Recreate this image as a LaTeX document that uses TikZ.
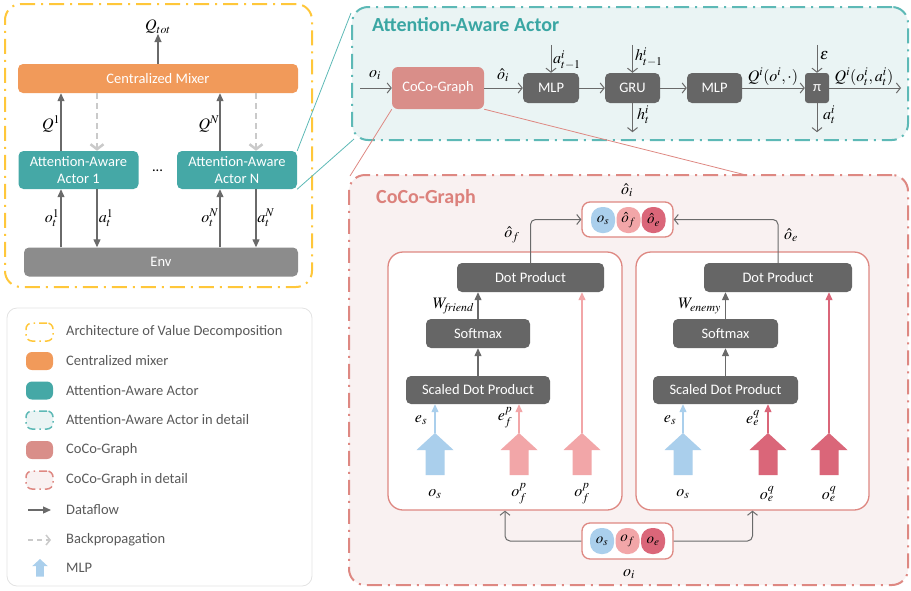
\documentclass[tikz,border=0pt]{standalone}
\usepackage{mathptmx}
\usepackage[no-math]{fontspec}
\setmainfont{Carlito}
\usetikzlibrary{arrows.meta}
\definecolor{cYel}{HTML}{FFC73A}
\definecolor{cOrg}{HTML}{F19A5A}
\definecolor{cTeal}{HTML}{45A8A6}
\definecolor{cTealL}{HTML}{5DB9B6}
\definecolor{cTealT}{HTML}{3AA6A3}
\definecolor{cTealF}{HTML}{EAF4F4}
\definecolor{cCoco}{HTML}{D98E89}
\definecolor{cPinkB}{HTML}{DE8882}
\definecolor{cPinkT}{HTML}{DC817C}
\definecolor{cPinkF}{HTML}{F9F1F1}
\definecolor{cDark}{HTML}{666666}
\definecolor{cEnv}{HTML}{8C8C8C}
\definecolor{cBlue}{HTML}{AACFEC}
\definecolor{cPinkL}{HTML}{F2A6A8}
\definecolor{cPinkD}{HTML}{DA6679}
\definecolor{cArr}{HTML}{6A6A6A}
\definecolor{cBack}{HTML}{CACACA}
\definecolor{cTxt}{HTML}{595959}
\definecolor{cLeg}{HTML}{E3E3E3}
\begin{document}
\begin{tikzpicture}[x=1pt,y=-1pt,
  box/.style={rounded corners=5pt,text=white,font=\fontsize{14.5}{17}\selectfont,inner sep=0pt,align=center},
  darkbox/.style={box,fill=cDark},
  lab/.style={font=\fontsize{16}{18}\selectfont,inner sep=0pt,text=black},
  flow/.style={draw=cArr,line width=1.2pt,-{Triangle[length=8pt,width=7pt]}},
  open/.style={draw=cArr,line width=1pt,-{Straight Barb[length=4pt,width=10pt]}},
  back/.style={draw=cBack,line width=2.5pt,dash pattern=on 6pt off 4pt,-{Straight Barb[length=5pt,width=13pt]}},
  dashdot/.style={dash pattern=on 15pt off 6pt on 2pt off 6pt,line width=2pt},
  panel/.style={dashdot,rounded corners=16pt,inner sep=0pt},
  subbox/.style={draw=cPinkB,fill=white,line width=1.3pt,rounded corners=15pt,inner sep=0pt},
  circ/.style={minimum width=24pt,minimum height=26pt,rounded corners=11pt,inner sep=0pt,font=\fontsize{15}{17}\selectfont},
  icon/.style={minimum width=27pt,minimum height=18pt,rounded corners=6pt,inner sep=0pt},
  icondash/.style={dash pattern=on 8pt off 4pt on 1.5pt off 4pt,line width=1.5pt},
  legtxt/.style={anchor=west,text=cTxt,font=\fontsize{14.5}{17}\selectfont,inner sep=0pt},
  ptitle/.style={anchor=west,font=\fontsize{20}{23}\selectfont\bfseries,inner sep=0pt},
  mlp/.pic={\fill (-9.5,42) -- (-9.5,17) -- (-18.5,17) -- (0,0) -- (18.5,17) -- (9.5,17) -- (9.5,42) -- cycle; \coordinate (-tip) at (0,0);}
]
\useasboundingbox (0,0) rectangle (911,590);

% ---------------- left panel ----------------
\node[panel,draw=cYel,minimum width=307pt,minimum height=283pt] (vd) at (158.5,145.5) {};
\node[box,fill=cOrg,minimum width=280pt,minimum height=29pt] (mixer) at (158,78.5) {Centralized Mixer};
\node[box,fill=cTeal,minimum width=120pt,minimum height=38pt] (act1) at (78.5,170) {Attention-Aware\\Actor 1};
\node[box,fill=cTeal,minimum width=120pt,minimum height=38pt] (actN) at (237,170) {Attention-Aware\\Actor N};
\node[font=\fontsize{14.5}{17}\selectfont,text=black,inner sep=0pt] (dots) at (157.5,171) {...};
\node[box,fill=cEnv,minimum width=274pt,minimum height=29pt] (env) at (161,262) {Env};

\node[lab] (qtot) at (158,27) {$Q_{tot}$};
\draw[flow] (mixer.north) -- (qtot.south);

\draw[flow] ([xshift=-17.5pt]act1.north) -- ([xshift=-17.5pt]act1.north |- mixer.south);
\draw[back] ([xshift=18.5pt]act1.north |- mixer.south) -- ([xshift=18.5pt]act1.north);
\draw[flow] ([xshift=-17pt]actN.north) -- ([xshift=-17pt]actN.north |- mixer.south);
\draw[back] ([xshift=19pt]actN.north |- mixer.south) -- ([xshift=19pt]actN.north);
\node[lab] (lq1) at (51,124) {$Q^1$};
\node[lab] (lqN) at (209,124) {$Q^N$};

\draw[flow] ([xshift=-17.5pt]act1.south |- env.north) -- ([xshift=-17.5pt]act1.south);
\draw[flow] ([xshift=18.5pt]act1.south) -- ([xshift=18.5pt]act1.south |- env.north);
\draw[flow] ([xshift=-17pt]actN.south |- env.north) -- ([xshift=-17pt]actN.south);
\draw[flow] ([xshift=19pt]actN.south) -- ([xshift=19pt]actN.south |- env.north);
\node[lab] (lo1) at (52,218) {$o_t^1$};
\node[lab] (la1) at (106,218) {$a_t^1$};
\node[lab] (loN) at (210,218) {$o_t^N$};
\node[lab] (laN) at (266,218) {$a_t^N$};

% ---------------- attention-aware actor panel ----------------
\node[panel,draw=cTealL,fill=cTealF,minimum width=556pt,minimum height=133pt] (tp) at (630,73.5) {};
\node[ptitle,text=cTealT] (ttitle) at (372,25) {Attention-Aware Actor};

\node[box,fill=cCoco,minimum width=92pt,minimum height=42pt,rounded corners=6pt] (coco) at (438,88) {CoCo-Graph};
\node[darkbox,minimum width=56pt,minimum height=30pt] (mlp1) at (551,88) {MLP};
\node[darkbox,minimum width=55pt,minimum height=30pt] (gru) at (632.5,88) {GRU};
\node[darkbox,minimum width=55pt,minimum height=30pt] (mlp2) at (714.5,88) {MLP};
\node[darkbox,minimum width=24pt,minimum height=30pt,rounded corners=3pt] (pi) at (817,88) {π};
\coordinate (oin) at (360,88);
\coordinate (qout) at (901,88);

\draw[open] (oin) -- (coco);
\draw[open] (coco) -- (mlp1);
\draw[open] (mlp1) -- (gru);
\draw[open] (gru) -- (mlp2);
\draw[open] (mlp2) -- (pi);
\draw[open] (pi) -- (qout);
\draw[open] ([yshift=28pt]mlp1.north) -- (mlp1.north);
\draw[open] ([yshift=28pt]gru.north) -- (gru.north);
\draw[open] (gru.south) -- ([yshift=-29pt]gru.south);
\draw[open] ([yshift=28pt]pi.north) -- (pi.north);
\draw[open] (pi.south) -- ([yshift=-29pt]pi.south);

\node[lab] (loi) at (375,75) {$o_i$};
\node[lab] (lhoi) at (503,75) {$\hat{o}_i$};
\node[lab,anchor=west] (lat1) at (553,60) {$a^i_{t-1}$};
\node[lab,anchor=west] (lht1) at (635,57) {$h^i_{t-1}$};
\node[lab,anchor=west] (lht) at (637,115) {$h^i_t$};
\node[lab,anchor=west] (leps) at (820,56) {$\varepsilon$};
\node[lab,anchor=west] (lat) at (823,115) {$a^i_t$};
\node[lab] (lq) at (773,77) {$Q^i(o^i,\cdot)$};
\node[lab] (lqa) at (864,77) {$Q^i(o^i_t,a^i_t)$};

% connector lines between panels
\draw[cTealL,line width=0.8pt] (actN.north east) -- ([yshift=-7pt]tp.north west);
\draw[cTealL,line width=0.8pt] (actN.south east) -- ([xshift=3pt,yshift=2pt]tp.south west);

% ---------------- CoCo-Graph panel ----------------
\node[panel,draw=cPinkB,fill=cPinkF,minimum width=559pt,minimum height=410pt] (pp) at (628.5,380) {};
\coordinate (ppr) at (746,175);
\draw[cPinkB,line width=0.8pt] (coco.south west) -- ([xshift=2pt,yshift=-2pt]pp.north west);
\draw[cPinkB,line width=0.8pt] (coco.south east) -- (ppr);
\node[ptitle,text=cPinkT] (ctitle) at (376,198) {CoCo-Graph};

% top output box
\node[subbox,rounded corners=8pt,minimum width=91pt,minimum height=35pt] (ohat) at (627.5,219.5) {};
\node[circ,fill=cBlue] (ohs) at (603,220) {$o_s$};
\node[circ,fill=cPinkL] (ohf) at (628.5,220) {$\hat{o}_f$};
\node[circ,fill=cPinkD] (ohe) at (653.5,220) {$\hat{o}_e$};
\node[lab] (lohat) at (627,190) {$\hat{o}_i$};

% sub boxes
\node[subbox,minimum width=234pt,minimum height=258pt] (lbox) at (505,381) {};
\node[subbox,minimum width=233pt,minimum height=258pt] (rbox) at (752.5,381) {};

\node[darkbox,minimum width=147pt,minimum height=29pt] (dot1) at (530.5,277.5) {Dot Product};
\node[darkbox,minimum width=104pt,minimum height=29pt] (soft1) at (478,333.5) {Softmax};
\node[darkbox,minimum width=144pt,minimum height=28pt] (sdp1) at (478,390) {Scaled Dot Product};
\node[darkbox,minimum width=148pt,minimum height=29pt] (dot2) at (778,277.5) {Dot Product};
\node[darkbox,minimum width=105pt,minimum height=29pt] (soft2) at (725.5,333.5) {Softmax};
\node[darkbox,minimum width=145pt,minimum height=28pt] (sdp2) at (725.5,390) {Scaled Dot Product};

\draw[flow] (sdp1.north) -- (soft1.south);
\draw[flow] (soft1.north) -- (soft1.north |- dot1.south);
\draw[flow] (sdp2.north) -- (soft2.south);
\draw[flow] (soft2.north) -- (soft2.north |- dot2.south);
\node[lab,anchor=east] (lwf) at (474,306) {$W_{\mathit{friend}}$};
\node[lab,anchor=east] (lwe) at (721,306) {$W_{\mathit{enemy}}$};

\draw[open,rounded corners=5pt] (dot1.north) |- (ohat.west);
\draw[open,rounded corners=5pt] (dot2.north) |- (ohat.east);
\node[lab] (lof) at (512,235) {$\hat{o}_f$};
\node[lab] (loe) at (791,235) {$\hat{o}_e$};

% MLP block arrows
\pic[fill=cBlue] (m1) at (435,433) {mlp};
\pic[fill=cPinkL] (m2) at (519,433) {mlp};
\pic[fill=cPinkL] (m3) at (582,433) {mlp};
\pic[fill=cBlue] (m4) at (683,433) {mlp};
\pic[fill=cPinkD] (m5) at (768,433) {mlp};
\pic[fill=cPinkD] (m6) at (829,433) {mlp};
\draw[flow,draw=cBlue] (m1-tip) -- (m1-tip |- sdp1.south);
\draw[flow,draw=cPinkL] (m2-tip) -- (m2-tip |- sdp1.south);
\draw[flow,draw=cPinkL] (m3-tip) -- (m3-tip |- dot1.south);
\draw[flow,draw=cBlue] (m4-tip) -- (m4-tip |- sdp2.south);
\draw[flow,draw=cPinkD] (m5-tip) -- (m5-tip |- sdp2.south);
\draw[flow,draw=cPinkD] (m6-tip) -- (m6-tip |- dot2.south);

\node[lab] (les1) at (421,420) {$e_s$};
\node[lab] (lefp) at (505,418) {$e_f^p$};
\node[lab] (les2) at (670,420) {$e_s$};
\node[lab] (leeq) at (753,418) {$e_e^q$};

\node[lab] (b1) at (435,494) {$o_s$};
\node[lab] (b2) at (519,494) {$o_f^p$};
\node[lab] (b3) at (582,494) {$o_f^p$};
\node[lab] (b4) at (683,494) {$o_s$};
\node[lab] (b5) at (767,494) {$o_e^q$};
\node[lab] (b6) at (829,494) {$o_e^q$};

% bottom input box
\node[subbox,rounded corners=8pt,minimum width=91pt,minimum height=36pt] (obox) at (627.5,541) {};
\node[circ,fill=cBlue] (os) at (602,541) {$o_s$};
\node[circ,fill=cPinkL] (of) at (627.5,541) {$o_f$};
\node[circ,fill=cPinkD] (oe) at (653,541) {$o_e$};
\node[lab] (loib) at (629,574) {$o_i$};
\draw[open,rounded corners=5pt] (obox.west) -| (lbox.south);
\draw[open,rounded corners=5pt] (obox.east) -| (rbox.south);

% ---------------- legend ----------------
\node[draw=cLeg,line width=0.8pt,rounded corners=10pt,minimum width=305pt,minimum height=278pt,inner sep=0pt] (legend) at (159.5,447) {};
\node[icon,draw=cYel,icondash] (i1) at (39.5,332) {};
\node[icon,fill=cOrg] (i2) at (39.5,361) {};
\node[icon,fill=cTeal] (i3) at (39.5,390.5) {};
\node[icon,draw=cTealL,fill=cTealF,icondash] (i4) at (39.5,420) {};
\node[icon,fill=cCoco] (i5) at (39.5,450) {};
\node[icon,draw=cPinkB,fill=cPinkF,icondash] (i6) at (39.5,480) {};
\coordinate (i7a) at (28,510);
\coordinate (i7b) at (51,510);
\draw[flow] (i7a) -- (i7b);
\coordinate (i8a) at (28,540);
\coordinate (i8b) at (51,540);
\draw[draw=cBack,line width=1.5pt,dash pattern=on 5pt off 4pt,-{Straight Barb[length=4pt,width=10pt]}] (i8a) -- (i8b);
\pic[fill=cBlue,scale=0.42] (i9) at (40,559) {mlp};

\node[legtxt] (t1) at (66,332) {Architecture of Value Decomposition};
\node[legtxt] (t2) at (66,361) {Centralized mixer};
\node[legtxt] (t3) at (66,390.5) {Attention-Aware Actor};
\node[legtxt] (t4) at (66,420) {Attention-Aware Actor in detail};
\node[legtxt] (t5) at (66,450) {CoCo-Graph};
\node[legtxt] (t6) at (66,480) {CoCo-Graph in detail};
\node[legtxt] (t7) at (66,510) {Dataflow};
\node[legtxt] (t8) at (66,540) {Backpropagation};
\node[legtxt] (t9) at (66,568) {MLP};
\end{tikzpicture}
\end{document}
